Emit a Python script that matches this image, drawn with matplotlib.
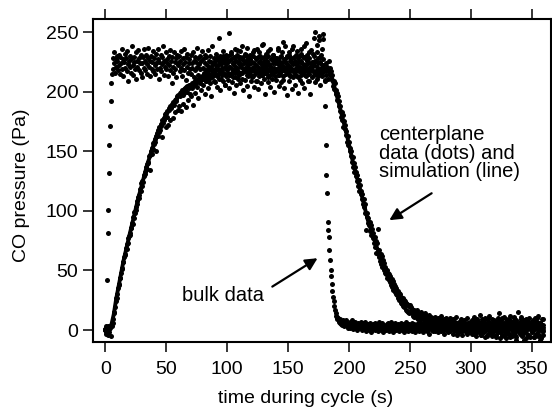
import numpy as np
import matplotlib
matplotlib.use("Agg")
import matplotlib.pyplot as plt

plt.rcParams['font.family'] = ['Liberation Sans', 'DejaVu Sans']

# sampling interval of both measured series (s)
dt = 0.5

# bulk data, one row = 10 s
bulk_p = [
    0, 3, -2, 42, 81, 101, 132, 155, 171, 192, 207, 215, 228, 219, 224, 233, 216, 227, 221, 230,
    226, 218, 231, 222, 215, 229, 224, 236, 219, 227, 213, 225, 232, 220, 228, 217, 234, 223, 209, 226,
    221, 230, 216, 227, 238, 222, 214, 229, 225, 219, 233, 211, 226, 221, 235, 218, 228, 224, 216, 231,
    224, 212, 229, 220, 236, 226, 218, 231, 223, 215, 228, 237, 221, 226, 213, 230, 219, 225, 234, 217,
    228, 222, 215, 232, 224, 219, 236, 227, 211, 225, 220, 231, 217, 229, 223, 238, 214, 226, 221, 233,
    219, 227, 224, 213, 230, 222, 235, 218, 226, 207, 229, 221, 216, 233, 225, 219, 228, 212, 231, 224,
    222, 230, 217, 226, 234, 220, 213, 228, 223, 236, 218, 225, 210, 229, 221, 232, 216, 227, 224, 219,
    231, 215, 224, 220, 233, 226, 212, 229, 218, 225, 237, 221, 228, 214, 223, 230, 219, 226, 211, 234,
    220, 227, 216, 231, 224, 209, 229, 222, 235, 218, 226, 213, 230, 221, 225, 217, 238, 223, 228, 215,
    226, 219, 232, 214, 228, 222, 245, 217, 230, 224, 211, 227, 220, 234, 216, 225, 229, 206, 223, 231,
    218, 225, 230, 249, 221, 214, 227, 233, 219, 224, 212, 229, 222, 236, 217, 226, 220, 231, 215, 228,
    223, 216, 234, 221, 227, 211, 229, 224, 218, 232, 220, 226, 214, 237, 222, 228, 217, 225, 231, 219,
    226, 220, 213, 230, 224, 235, 218, 227, 222, 209, 229, 221, 233, 216, 225, 219, 228, 239, 214, 223,
    221, 229, 216, 224, 232, 219, 226, 212, 230, 223, 218, 236, 221, 227, 215, 224, 231, 220, 226, 213,
    228, 217, 224, 235, 220, 226, 214, 229, 222, 218, 233, 225, 210, 227, 221, 238, 219, 224, 230, 216,
    222, 231, 219, 226, 213, 228, 224, 236, 217, 223, 229, 215, 226, 220, 234, 218, 225, 212, 230, 221,
    219, 226, 232, 215, 223, 229, 220, 238, 214, 227, 222, 217, 231, 224, 209, 228, 221, 235, 218, 225,
    224, 217, 230, 222, 250, 226, 215, 233, 221, 228, 213, 247, 225, 219, 231, 222, 216, 244, 227, 220,
    210, 188, 155, 130, 115, 91, 84, 78, 67, 59, 50, 45, 39, 33, 28, 24, 20, 17, 14, 12,
    11, 9, 10, 7, 8, 6, 9, 5, 7, 4, 8, 6, 3, 7, 5, 8, 4, 6, 2, 5,
    4, 7, 2, 5, 3, 8, 1, 6, 4, 2, 7, 3, 5, 0, 4, 6, 2, 5, 3, 7,
    2, 5, 0, 4, 6, 1, 3, 7, -1, 4, 2, 5, 3, 0, 6, 2, 4, -2, 3, 5,
    1, 4, 6, 0, 3, 5, 2, -1, 4, 7, 1, 3, 0, 5, 2, 6, -2, 3, 4, 1,
    3, 0, 5, 2, 6, -1, 4, 1, 3, 7, 0, 2, 5, -2, 4, 1, 6, 2, 0, 3,
    5, 1, 3, -1, 4, 2, 6, 0, 3, 5, -2, 2, 4, 1, 7, 0, 3, -1, 5, 2,
    0, 4, 2, 6, -1, 3, 1, 5, 2, -2, 4, 0, 3, 6, 1, -1, 4, 2, 5, 0,
    3, -2, 5, 1, 4, 0, 6, 2, -1, 3, 5, 1, -3, 4, 2, 6, 0, 3, -1, 4,
    2, 5, -1, 3, 0, 6, 2, -2, 4, 1, 5, -1, 3, 7, 0, 2, -3, 4, 1, 5,
    0, 3, 6, -2, 4, 1, -1, 5, 2, 8, -3, 3, 0, 4, 6, -1, 2, 5, -4, 3,
    4, -2, 2, 6, 0, 3, -4, 5, 1, 7, -1, 3, 5, -3, 2, 0, 6, -2, 4, 1,
    2, 6, -3, 4, 0, 8, -1, 3, 5, -5, 2, 7, 0, 4, -2, 6, 1, -4, 3, 9,
    -1, 4, 7, 0, -6, 3, 5, 1, 9, -3, 2, 6, -2, 4, 0, -5, 7, 3, -1, 5,
    3, -4, 6, 1, 8, -2, 4, 0, -7, 5, 2, 10, -1, 3, 6, -5, 1, 4, -3, 7,
    0, 5, -3, 8, 2, -6, 4, 1, 7, -2, 3, 11, -4, 5, 0, -8, 6, 2, -1, 4,
    6, -3, 2, 9, -5, 4, 0, 7, -2, 3, -7, 5, 1, 8, -4, 2, 6, -6, 3, 0,
    -2, 5, 1, 8, -6, 3, 7, -3, 2, 10, -5, 4, 0, 6, -8, 2, 5, -1, 9, -4,
]

# centerplane data, one row = 10 s
center_p = [
    1, -3, 2, 0, -4, 3, -2, 1, 2, -5, 4, 3, 9, 6, 14, 15, 19, 24, 27, 27,
    30, 35, 38, 39, 44, 44, 48, 51, 52, 57, 57, 61, 63, 64, 69, 68, 72, 73, 77, 79,
    81, 80, 86, 86, 90, 89, 95, 94, 99, 98, 103, 101, 108, 106, 112, 111, 113, 118, 117, 123,
    121, 125, 124, 130, 129, 133, 131, 137, 135, 139, 141, 140, 146, 134, 147, 150, 148, 153, 152, 157,
    156, 160, 158, 163, 150, 165, 163, 168, 166, 170, 168, 173, 171, 162, 176, 174, 178, 176, 181, 170,
    182, 179, 184, 172, 185, 186, 176, 188, 186, 189, 190, 178, 191, 189, 193, 183, 194, 192, 196, 185,
    197, 188, 199, 196, 200, 184, 201, 197, 190, 202, 199, 203, 187, 204, 200, 205, 193, 203, 206, 198,
    205, 196, 207, 203, 189, 208, 206, 209, 199, 207, 210, 204, 211, 195, 209, 212, 207, 210, 201, 213,
    211, 206, 214, 198, 212, 218, 209, 213, 203, 216, 211, 221, 207, 214, 196, 218, 212, 224, 209, 215,
    217, 208, 222, 213, 204, 219, 226, 211, 216, 201, 223, 214, 218, 230, 209, 215, 221, 206, 227, 213,
    219, 210, 226, 214, 203, 221, 232, 215, 208, 224, 217, 199, 228, 212, 220, 206, 235, 218, 211, 225,
    214, 229, 207, 222, 216, 238, 201, 219, 226, 210, 217, 231, 205, 223, 213, 220, 196, 227, 215, 209,
    224, 212, 233, 218, 204, 221, 215, 228, 209, 236, 217, 202, 225, 213, 230, 219, 207, 222, 214, 240,
    211, 226, 218, 198, 229, 215, 222, 208, 234, 213, 220, 204, 227, 216, 211, 231, 219, 200, 224, 217,
    228, 210, 219, 237, 214, 205, 223, 216, 230, 208, 221, 213, 242, 218, 203, 226, 215, 220, 197, 229,
    216, 233, 209, 221, 214, 227, 202, 219, 238, 212, 224, 206, 218, 231, 213, 222, 199, 228, 217, 210,
    225, 214, 236, 207, 220, 216, 229, 203, 222, 241, 213, 219, 226, 209, 233, 215, 198, 224, 218, 212,
    221, 232, 214, 245, 208, 226, 217, 239, 211, 224, 215, 243, 206, 229, 219, 236, 213, 222, 248, 217,
    219, 209, 224, 214, 221, 211, 218, 226, 215, 220, 213, 217, 210, 214, 205, 209, 202, 207, 198, 201,
    199, 193, 196, 188, 192, 184, 188, 179, 183, 176, 180, 170, 175, 169, 172, 164, 167, 158, 163, 155,
    158, 150, 153, 146, 150, 141, 145, 137, 140, 133, 137, 129, 133, 125, 130, 121, 126, 117, 122, 114,
    117, 110, 114, 106, 110, 103, 106, 98, 84, 95, 98, 90, 94, 88, 91, 83, 88, 80, 85, 77,
    81, 73, 78, 70, 75, 65, 73, 64, 85, 61, 67, 58, 64, 55, 62, 53, 59, 50, 56, 48,
    53, 47, 50, 44, 48, 42, 47, 40, 45, 38, 43, 36, 41, 34, 39, 32, 37, 30, 35, 29,
    33, 27, 31, 25, 30, 23, 28, 22, 27, 20, 25, 19, 24, 17, 23, 16, 22, 15, 21, 14,
    21, 15, 19, 14, 18, 12, 17, 11, 16, 13, 15, 10, 17, 9, 14, 12, 13, 8, 15, 11,
    13, 9, 12, 7, 11, 14, 8, 10, 12, 6, 10, 9, 13, 7, 9, 11, 8, 5, 10, 8,
    9, 5, 11, 7, 4, 8, 10, 6, 3, 9, 7, 12, 5, 8, 6, 2, 9, 7, 4, 10,
    6, 3, 8, 1, 7, 5, 10, 4, 2, 6, 9, 3, 5, 0, 7, 4, 11, 2, 6, 5,
    3, 7, 1, 5, 9, -1, 4, 6, 2, 8, 3, 0, 5, 10, 2, 6, -2, 4, 7, 1,
    5, -1, 8, 2, 4, 11, -3, 6, 1, 3, 9, -2, 5, 0, 7, 13, 2, -4, 6, 3,
    1, 8, -2, 4, 10, 0, 5, -5, 3, 7, 12, -1, 4, 2, 9, -3, 6, 1, 8, 0,
    4, -6, 7, 2, 10, 0, 5, 14, -2, 3, 8, -4, 6, 1, 11, -1, 4, 9, -7, 2,
    6, 0, 9, -3, 3, 12, 1, 5, -5, 7, 2, 10, -2, 4, 8, -6, 3, 15, 0, 5,
    -1, 7, 3, 11, -4, 5, 1, 8, -8, 4, 9, 0, 6, -3, 2, 10, -5, 4, 7, 1,
    5, -2, 8, 3, -6, 10, 1, 4, -3, 7, 0, 12, -4, 3, 6, -7, 2, 9, -1, 4,
]

# simulation (line)
sim_t = [0, 3, 5, 7, 9, 12, 15, 20, 27, 34, 41, 49, 60, 65, 74, 82, 93, 120,
         184, 186, 191, 198, 203.5, 210, 215.6, 222.7, 231, 236, 242, 248,
         255.5, 262, 270, 283, 300, 330, 360]
sim_p = [0, 0, 4, 13, 26, 42, 58, 80, 110, 137, 160, 179, 196, 201, 207, 211, 214, 217,
         217, 212, 193, 165, 140, 115, 92, 70, 48, 37.5, 28, 20.5,
         14, 11, 8, 5, 3, 2, 1]

x_ticks = [0, 50, 100, 150, 200, 250, 300, 350]
y_ticks = [0, 50, 100, 150, 200, 250]

bulk_t = np.arange(len(bulk_p)) * dt
center_t = np.arange(len(center_p)) * dt

fig = plt.figure(figsize=(5.52, 4.11), dpi=100)
ax = fig.add_axes([0.1685, 0.168, 0.8292, 0.7859])

ax.plot(bulk_t, bulk_p, 'o', color='black', markersize=3.6, markeredgewidth=0, zorder=2)
ax.plot(center_t, center_p, 'o', color='black', markersize=3.6, markeredgewidth=0, zorder=2)
ax.plot(sim_t, sim_p, '-', color='black', linewidth=2.8, zorder=3)

ax.set_xlim(-10, 365.6)
ax.set_ylim(-10, 261)
ax.set_xticks(x_ticks)
ax.set_yticks(y_ticks)

for side in ['left', 'right', 'top', 'bottom']:
    ax.spines[side].set_linewidth(1.5)
ax.tick_params(direction='out', length=7.5, width=1.1, labelsize=14,
               top=True, right=False, labeltop=False)
ax.tick_params(axis='x', pad=6)
ax.tick_params(axis='y', pad=3)

ax.set_xlabel("time during cycle (s)", fontsize=14)
ax.set_ylabel("CO pressure (Pa)", fontsize=14)
ax.xaxis.set_label_coords(0.464, -0.148)
ax.yaxis.set_label_coords(-0.138, 0.486)

ax.text(62.7, 24.6, "bulk data", fontsize=14.5, ha='left', va='baseline')
ax.annotate("", xy=(176.2, 61.5), xytext=(135.2, 35.2),
            arrowprops=dict(arrowstyle='-|>', color='black', lw=1.6, mutation_scale=18))

ax.text(224.9, 159.4, "centerplane", fontsize=14.5, ha='left', va='baseline')
ax.text(224.9, 143.2, "data (dots) and", fontsize=14.5, ha='left', va='baseline')
ax.text(224.9, 128.6, "simulation (line)", fontsize=14.5, ha='left', va='baseline')
ax.annotate("", xy=(231.2, 90.9), xytext=(269.8, 116.0),
            arrowprops=dict(arrowstyle='-|>', color='black', lw=1.6, mutation_scale=18))

fig.savefig("out.png", dpi=100)
